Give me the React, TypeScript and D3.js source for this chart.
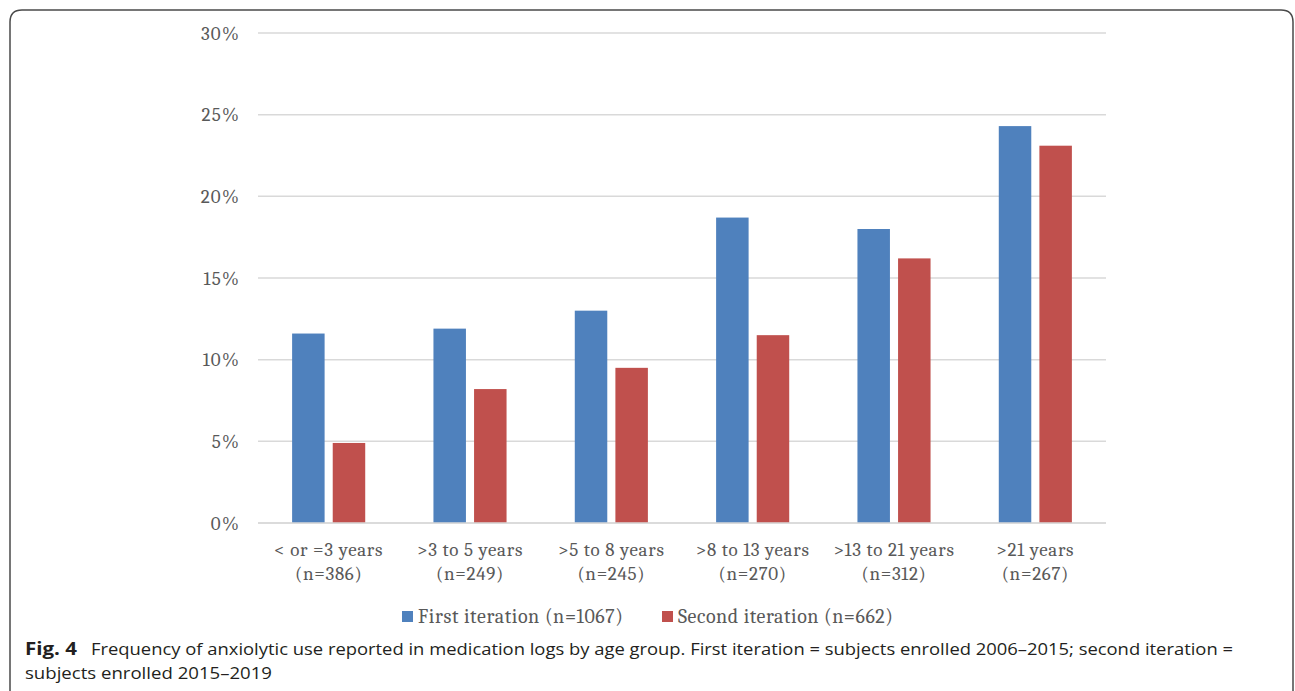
import React from "react";
import * as d3 from "d3";

const categories = ["< or =3 years", ">3 to 5 years", ">5 to 8 years", ">8 to 13 years", ">13 to 21 years", ">21 years"];
const sampleSizes = ["(n=386)", "(n=249)", "(n=245)", "(n=270)", "(n=312)", "(n=267)"];
const firstIteration = [11.6, 11.9, 13.0, 18.7, 18.0, 24.3];
const secondIteration = [4.9, 8.2, 9.5, 11.5, 16.2, 23.1];
const seriesNames = ["First iteration (n=1067)", "Second iteration (n=662)"];
const yTicks = [0, 5, 10, 15, 20, 25, 30];

const W = 1295;
const H = 691;
const colors = ["#4f81bd", "#c0504d"];

export default function App() {
  const x = d3.scaleBand<string>().domain(categories).range([258, 1106]).paddingInner(0).paddingOuter(0);
  const y = d3.scaleLinear().domain([0, 30]).range([523, 33]);
  const inner = d3.scaleBand<number>().domain([0, 1]).range([0, x.bandwidth()]).paddingInner(0.2).paddingOuter(0.84);
  const series = [firstIteration, secondIteration];
  const serif = "Cambria, 'Liberation Serif', serif";
  const sans = "'Open Sans', 'Noto Sans', sans-serif";
  const legendX = [402, 662];
  const legendLen = [205, 215];
  return (
    <svg width={W} height={H} style={{ position: "absolute", left: 0, top: 0, background: "#fff" }}>
      <path d={`M10,${H + 5} L10,22 Q10,10 22,10 L1281,10 Q1293,10 1293,22 L1293,${H + 5}`} fill="none" stroke="#4a4a4a" strokeWidth={1.5} />
      {yTicks.map((t) => (
        <g key={t}>
          <line x1={258} x2={1106} y1={y(t)} y2={y(t)} stroke="#d9d9d9" strokeWidth={1.5} />
          <text x={240} y={y(t)} dy="0.35em" textAnchor="end" fontFamily={serif} fontSize={19} fill="#595959" letterSpacing={1.2}>
            {t}%
          </text>
        </g>
      ))}
      {series.map((vals, si) =>
        vals.map((v, i) => {
          const bx = (x(categories[i]) as number) + (inner(si) as number);
          return <rect key={`${si}-${i}`} x={bx} y={y(v)} width={inner.bandwidth()} height={y(0) - y(v)} fill={colors[si]} />;
        })
      )}
      <line x1={258} x2={1106} y1={y(0)} y2={y(0)} stroke="#d9d9d9" strokeWidth={1.5} />
      {categories.map((c, i) => {
        const cx = (x(c) as number) + x.bandwidth() / 2;
        return (
          <text key={c} x={cx} textAnchor="middle" fontFamily={serif} fontSize={19} fill="#595959" letterSpacing={0.7}>
            <tspan x={cx} y={556}>{c}</tspan>
            <tspan x={cx} y={580}>{sampleSizes[i]}</tspan>
          </text>
        );
      })}
      {seriesNames.map((s, i) => {
        const lx = legendX[i];
        return (
          <g key={s}>
            <rect x={lx} y={611} width={11} height={11} fill={colors[i]} />
            <text x={lx + 16} y={623} fontFamily={serif} fontSize={20} fill="#595959" textLength={legendLen[i]} lengthAdjust="spacing">
              {s}
            </text>
          </g>
        );
      })}
      <text x={25} y={655} fontFamily={sans} fontSize={17} fontWeight="bold" fill="#231f20" textLength={52} lengthAdjust="spacingAndGlyphs">
        Fig. 4
      </text>
      <text x={91} y={655} fontFamily={sans} fontSize={17} fill="#231f20" textLength={1142} lengthAdjust="spacingAndGlyphs">
        Frequency of anxiolytic use reported in medication logs by age group. First iteration = subjects enrolled 2006–2015; second iteration =
      </text>
      <text x={25} y={679} fontFamily={sans} fontSize={17} fill="#231f20" textLength={247} lengthAdjust="spacingAndGlyphs">
        subjects enrolled 2015–2019
      </text>
    </svg>
  );
}
